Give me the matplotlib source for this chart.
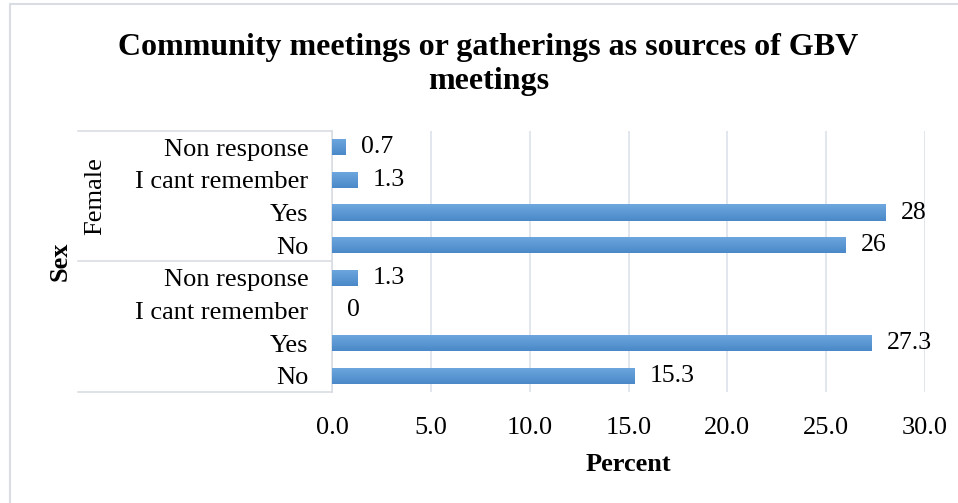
import numpy as np
import matplotlib.pyplot as plt
from matplotlib.patches import Rectangle
from matplotlib.colors import LinearSegmentedColormap
import matplotlib.transforms as mtransforms

plt.rcParams['font.family'] = ['Liberation Serif', 'DejaVu Serif']

# data (bottom to top)
responses = ["No", "Yes", "I cant remember", "Non response"]
groups = ["", "Female"]
male_vals = [15.3, 27.3, 0, 1.3]
female_vals = [26, 28, 1.3, 0.7]
values = male_vals + female_vals
labels = responses + responses
value_text = ["15.3", "27.3", "0", "1.3", "26", "28", "1.3", "0.7"]

fig = plt.figure(figsize=(9.58, 5.03), dpi=100)
ax = fig.add_axes([0.3466, 0.2207, 0.619, 0.519])

# outer chart border
fig.patches.append(Rectangle((0.010, -0.01), 1.0, 1.002, transform=fig.transFigure,
                             fill=False, edgecolor="#d9dde3", linewidth=1.5))

y = np.arange(len(values))
bars = ax.barh(y, values, height=0.5, color="#5b9bd5", zorder=2)

# vertical gradient on each bar
cmap = LinearSegmentedColormap.from_list("bar", ["#4a88c8", "#6fa8df"])
grad = np.linspace(0, 1, 64).reshape(-1, 1)
for b in bars:
    if b.get_width() <= 0:
        continue
    x0, y0, w, h = b.get_x(), b.get_y(), b.get_width(), b.get_height()
    im = ax.imshow(grad, cmap=cmap, aspect="auto", origin="lower",
                   extent=(x0, x0 + w, y0, y0 + h), zorder=3)
    im.set_clip_path(b)

for b, t in zip(bars, value_text):
    ax.annotate(t, (b.get_width(), b.get_y() + b.get_height() / 2),
                xytext=(11, 0), textcoords="offset points",
                ha="left", va="center", fontsize=18.5, color="#000000")

ax.set_xlim(0, 30)
ax.set_ylim(-0.5, len(values) - 0.5)
ax.set_aspect("auto")
ax.set_xticks(np.arange(0, 31, 5))
ax.set_xticklabels([f"{v:.1f}" for v in np.arange(0, 31, 5)], fontsize=19)
ax.set_yticks(y)
ax.set_yticklabels(labels, fontsize=19)
ax.tick_params(axis="x", length=0, pad=18)
ax.tick_params(axis="y", length=0, pad=17)
ax.grid(axis="x", color="#dde2ea", linewidth=1.2, zorder=0)
ax.set_axisbelow(True)
for s in ["top", "right", "bottom"]:
    ax.spines[s].set_visible(False)
ax.spines["left"].set_color("#d9dde3")
ax.spines["left"].set_linewidth(1.2)

# category box lines
trans = mtransforms.blended_transform_factory(ax.transAxes, ax.transData)
box_left = (78 - 332) / (925 - 332)
for yb in [-0.5, 3.5, 7.5]:
    ax.plot([box_left, 0], [yb, yb], transform=trans, color="#d9dde3",
            linewidth=1.2, clip_on=False)

# group labels
for i, g in enumerate(groups):
    ax.text((95 - 332) / (925 - 332), i * 4 + 1.5, g, transform=trans,
            rotation=90, ha="center", va="center", fontsize=19)

ax.text((60 - 332) / (925 - 332), 3.5, "Sex", transform=trans, rotation=90,
        ha="center", va="center", fontsize=19, fontweight="bold")

ax.set_xlabel("Percent", fontsize=19, fontweight="bold", labelpad=10)

fig.text(0.51, 0.872, "Community meetings or gatherings as sources of GBV\nmeetings",
         ha="center", va="center", fontsize=23, fontweight="bold", linespacing=1.25)

fig.savefig("out.png", dpi=100)
